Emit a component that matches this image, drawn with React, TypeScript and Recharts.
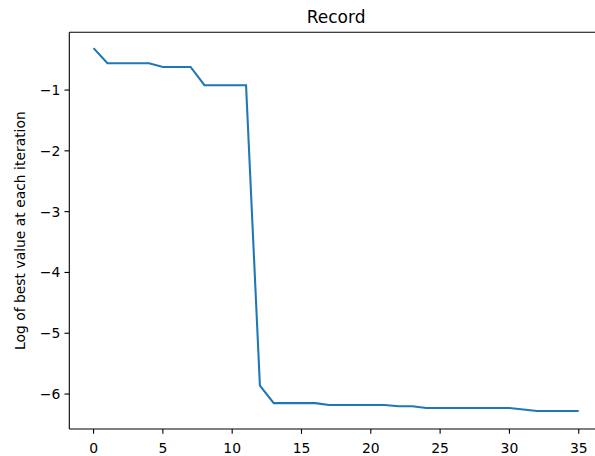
import { LineChart, Line, XAxis, YAxis, ReferenceLine } from "recharts";

const ITERATIONS = Array.from({ length: 36 }, (_, i) => i);

const BEST_LOG = [
  -0.31,
  -0.56, -0.56, -0.56, -0.56,
  -0.62, -0.62, -0.62,
  -0.92, -0.92, -0.92, -0.92,
  -5.86,
  -6.15, -6.15, -6.15, -6.15,
  -6.18, -6.18, -6.18, -6.18, -6.18,
  -6.2, -6.2,
  -6.23, -6.23, -6.23, -6.23, -6.23, -6.23, -6.23,
  -6.255,
  -6.28, -6.28, -6.28, -6.28,
];

const X_TICKS = [0, 5, 10, 15, 20, 25, 30, 35];
const Y_TICKS = [-6, -5, -4, -3, -2, -1];

const X_DOMAIN: [number, number] = [-1.75, 36.75];
const Y_DOMAIN: [number, number] = [-6.575, -0.05];

const data = ITERATIONS.map((it, i) => ({ it, v: BEST_LOG[i] }));

const FONT = "'DejaVu Sans', sans-serif";
const tick = { fontSize: 13.9, fill: "#000", fontFamily: FONT };
const minus = (v: number) => String(v).replace("-", "\u2212");

const YLabel = ({ viewBox }: any) => {
  const cy = viewBox.y + viewBox.height / 2;
  return (
    <text
      x={25.5}
      y={cy}
      transform={`rotate(-90, 25.5, ${cy})`}
      textAnchor="middle"
      fontSize={13.9}
      fontFamily={FONT}
      fill="#000"
    >
      Log of best value at each iteration
    </text>
  );
};

export default function App() {
  return (
    <div style={{ position: "absolute", left: 0, top: 0, width: 595, height: 456, overflow: "hidden", background: "#fff" }}>
      <LineChart
        width={595}
        height={456}
        data={data}
        margin={{ top: 32.3, right: -8, left: 0, bottom: 0 }}
      >
        <XAxis
          dataKey="it"
          type="number"
          domain={X_DOMAIN}
          ticks={X_TICKS}
          allowDataOverflow
          height={27}
          tick={tick}
          tickSize={4.86}
          tickMargin={9}
          axisLine={{ stroke: "#000", strokeWidth: 1.1 }}
          tickLine={{ stroke: "#000", strokeWidth: 1.1 }}
        />
        <YAxis
          type="number"
          domain={Y_DOMAIN}
          ticks={Y_TICKS}
          allowDataOverflow
          width={69.3}
          tick={tick}
          tickFormatter={minus}
          tickSize={4.86}
          tickMargin={4.2}
          axisLine={{ stroke: "#000", strokeWidth: 1.1 }}
          tickLine={{ stroke: "#000", strokeWidth: 1.1 }}
          label={{ content: YLabel }}
        />
        <ReferenceLine
          y={Y_DOMAIN[1]}
          stroke="#000"
          strokeWidth={1.1}
          label={{
            value: "Record",
            position: "top",
            offset: 9.6,
            fontSize: 17,
            fontFamily: FONT,
            fill: "#000",
          }}
        />
        <Line
          type="linear"
          dataKey="v"
          stroke="#1f77b4"
          strokeWidth={2.08}
          dot={false}
          isAnimationActive={false}
        />
      </LineChart>
    </div>
  );
}
